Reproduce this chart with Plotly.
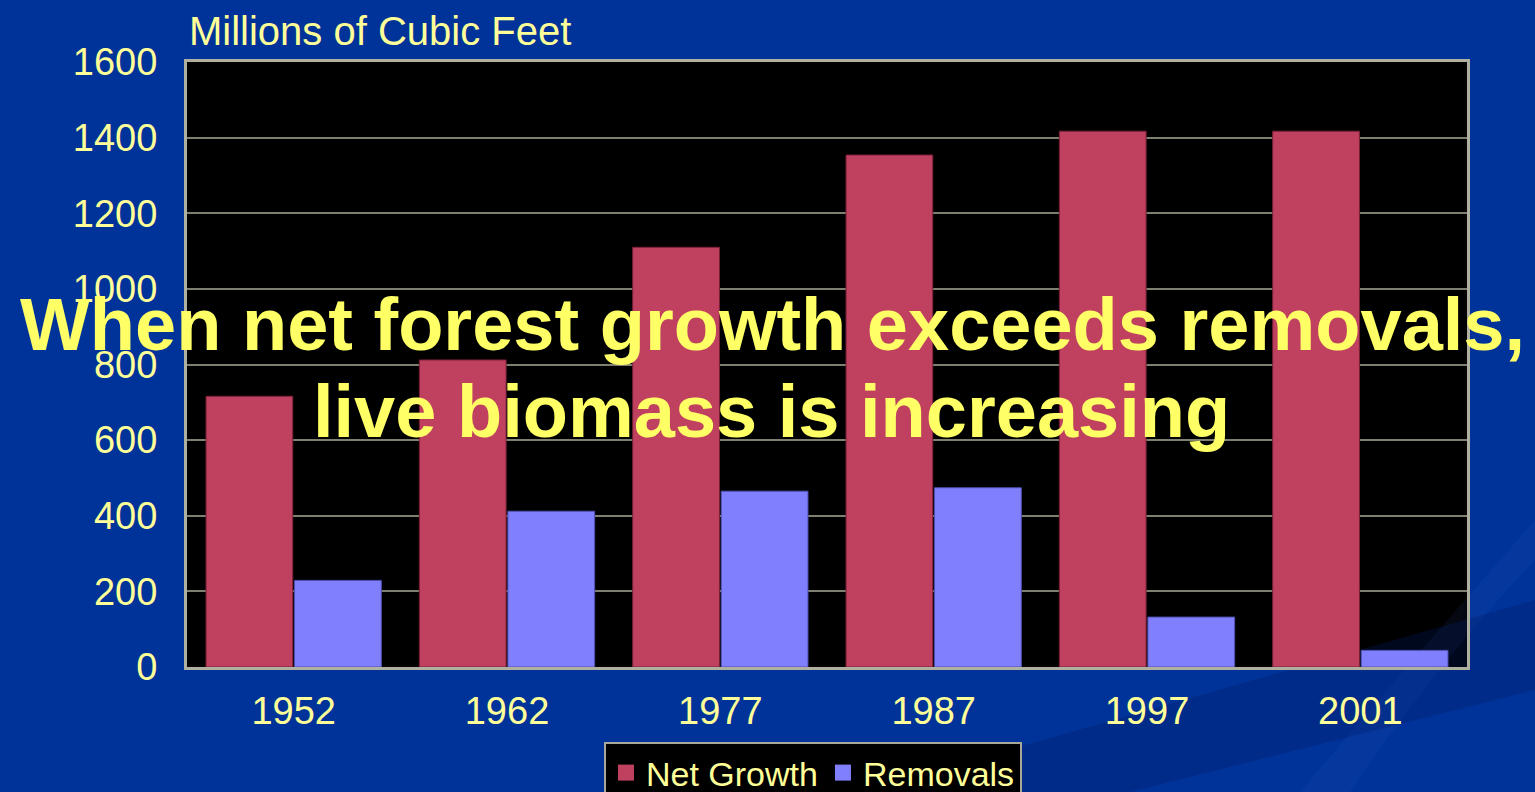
import plotly.graph_objects as go

years = ["1952", "1962", "1977", "1987", "1997", "2001"]
net_growth = [716, 812, 1110, 1354, 1417, 1417]
removals = [229, 412, 465, 474, 132, 44]
y_ticks = [0, 200, 400, 600, 800, 1000, 1200, 1400, 1600]

BG = "#003399"
TICK = "#FFFF99"
FONT = "Liberation Sans, Arial, sans-serif"
RED = "#C04060"
BLUE = "#8080FF"

W, H = 1535, 792
L, R, T, B = 187, 68, 62, 125


def px(x):
    return (x - L) / (W - L - R)


def py(y):
    return (H - B - y) / (H - B - T)


fig = go.Figure()
fig.add_trace(go.Bar(name="Net Growth", x=years, y=net_growth, showlegend=False,
                     marker=dict(color=RED, line=dict(color="#7a2038", width=1))))
fig.add_trace(go.Bar(name="Removals", x=years, y=removals, showlegend=False,
                     marker=dict(color=BLUE, line=dict(color="#5050b0", width=1))))
# legend entries with square swatches
fig.add_trace(go.Scatter(name="Net Growth", x=[None], y=[None], mode="markers",
                         marker=dict(symbol="square", size=22, color=RED)))
fig.add_trace(go.Scatter(name="Removals", x=[None], y=[None], mode="markers",
                         marker=dict(symbol="square", size=22, color=BLUE)))

shapes = [
    dict(type="path", xref="paper", yref="paper", layer="below",
         path=f"M {px(860)} {py(792)} L {px(1535)} {py(600)} L {px(1535)} {py(690)} L {px(1130)} {py(792)} Z",
         fillcolor="rgba(0,25,100,0.30)", line=dict(width=0)),
    dict(type="path", xref="paper", yref="paper", layer="below",
         path=f"M {px(1300)} {py(792)} Q {px(1420)} {py(650)} {px(1535)} {py(520)} L {px(1535)} {py(560)} Q {px(1440)} {py(660)} {px(1350)} {py(792)} Z",
         fillcolor="rgba(60,100,200,0.08)", line=dict(width=0)),
]

annotations = [
    dict(text="Millions of Cubic Feet", xref="paper", yref="paper", x=px(187), y=py(31),
         xanchor="left", yanchor="middle", showarrow=False,
         font=dict(family=FONT, size=40, color=TICK)),
    dict(text="<b>When net forest growth exceeds removals,</b>", xref="paper", yref="paper",
         x=px(772), y=py(324), xanchor="center", yanchor="middle", showarrow=False,
         font=dict(family=FONT, size=74, color="#FFFF66")),
    dict(text="<b>live biomass is increasing</b>", xref="paper", yref="paper",
         x=px(771), y=py(411), xanchor="center", yanchor="middle", showarrow=False,
         font=dict(family=FONT, size=74, color="#FFFF66")),
]

fig.update_layout(
    width=W, height=H,
    margin=dict(l=L, r=R, t=T, b=B, autoexpand=False),
    paper_bgcolor=BG, plot_bgcolor="#000000",
    barmode="group", bargap=0.17, bargroupgap=0.02,
    font=dict(family=FONT, color=TICK),
    showlegend=True,
    legend=dict(orientation="h", x=px(813), y=py(742), xanchor="center", yanchor="top",
                bgcolor="#000000", bordercolor="#a8a898", borderwidth=2,
                font=dict(family=FONT, size=34, color=TICK), itemsizing="trace",
                itemwidth=30, traceorder="normal"),
    shapes=shapes,
    annotations=annotations,
)
fig.update_xaxes(showgrid=False, showline=True, linecolor="#b0b0a0", linewidth=3, mirror=True,
                 ticks="outside", ticklen=8, tickcolor="rgba(0,0,0,0)",
                 tickfont=dict(family=FONT, size=38, color=TICK))
fig.update_yaxes(range=[0, 1600], tickvals=y_ticks, showgrid=True, gridcolor="#808070", gridwidth=1.5,
                 zeroline=False, showline=True, linecolor="#b0b0a0", linewidth=3, mirror=True,
                 ticks="outside", ticklen=19, tickcolor="rgba(0,0,0,0)",
                 tickfont=dict(family=FONT, size=38, color=TICK))

fig.write_html("out.html", config={"displayModeBar": False},
               post_script="document.body.style.margin='0';document.body.style.overflow='hidden';")
